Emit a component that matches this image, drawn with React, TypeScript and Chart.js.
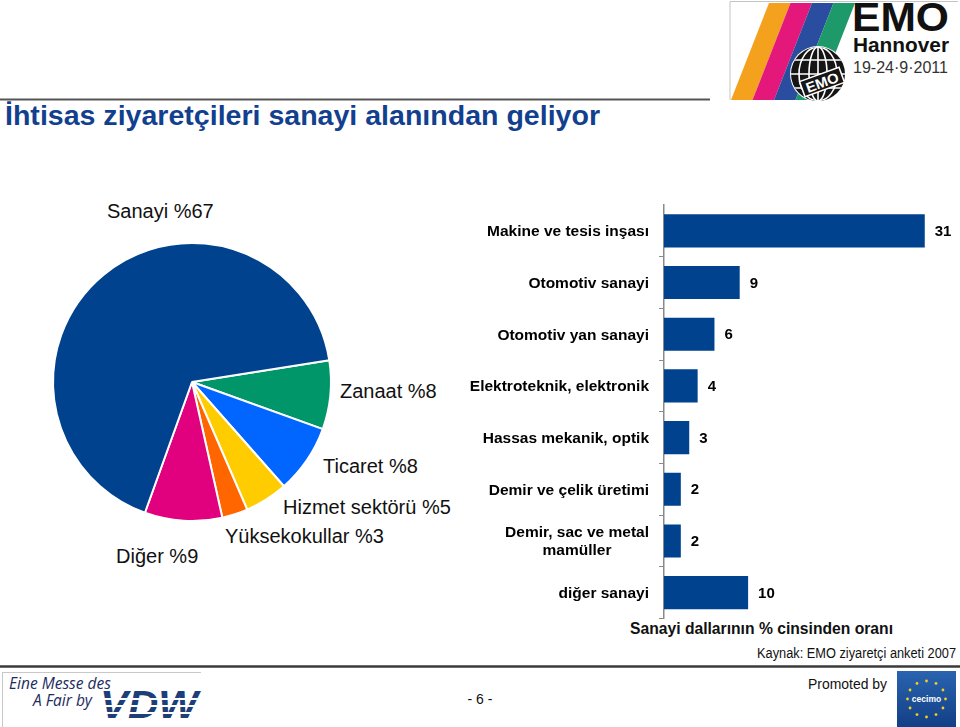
import React, { useEffect, useRef } from 'react';
import { Chart, registerables } from 'chart.js';

Chart.register(...registerables);

const FONT = '"Liberation Sans", Arial, Helvetica, sans-serif';

// ---- Pie data ----
const pieLabels = ['Zanaat', 'Ticaret', 'Hizmet sektörü', 'Yüksekokullar', 'Diğer', 'Sanayi'];
const pieValues = [8, 8, 5, 3, 9, 67];
const pieColors = ['#009669', '#0066FF', '#FFCC00', '#FF6600', '#E1007D', '#00428E'];
const pieLabelPos = [
  [340, 398],
  [323, 473],
  [283, 514],
  [225, 543],
  [116, 563],
  [107, 218],
];

// ---- Bar data ----
const barCategories: (string | string[])[] = [
  'Makine ve tesis inşası',
  'Otomotiv sanayi',
  'Otomotiv yan sanayi',
  'Elektroteknik, elektronik',
  'Hassas mekanik, optik',
  'Demir ve çelik üretimi',
  ['Demir, sac ve metal', 'mamüller'],
  'diğer sanayi',
];
const barValues = [31, 9, 6, 4, 3, 2, 2, 10];
const barColor = '#00428E';

const titleText = 'İhtisas ziyaretçileri sanayi alanından geliyor';
const axisTitle = 'Sanayi dallarının % cinsinden oranı';
const sourceText = 'Kaynak: EMO ziyaretçi anketi 2007';

const barLabelsPlugin = {
  id: 'barLabels',
  afterDraw(chart: any) {
    const ctx = chart.ctx;
    const yScale = chart.scales.y;
    const area = chart.chartArea;
    ctx.save();
    ctx.font = `bold 15.5px ${FONT}`;
    ctx.fillStyle = '#000';
    ctx.textBaseline = 'middle';
    ctx.textAlign = 'center';
    barCategories.forEach((cat, i) => {
      const lines = Array.isArray(cat) ? cat : [cat];
      const maxW = Math.max(...lines.map((l) => ctx.measureText(l).width));
      const cx = area.left - 15 - maxW / 2;
      const cy = yScale.getPixelForValue(i);
      const lh = 18;
      lines.forEach((l, j) => ctx.fillText(l, cx, cy + 1 + (j - (lines.length - 1) / 2) * lh));
    });
    const meta = chart.getDatasetMeta(0);
    ctx.textAlign = 'left';
    ctx.font = `bold 15px ${FONT}`;
    meta.data.forEach((bar: any, i: number) => {
      ctx.fillText(String(barValues[i]), bar.x + 10, bar.y + 1);
    });
    ctx.restore();
  },
};

function PieChart() {
  const ref = useRef<HTMLCanvasElement>(null);
  useEffect(() => {
    const chart = new Chart(ref.current!, {
      type: 'pie',
      data: {
        labels: pieLabels,
        datasets: [
          {
            data: pieValues,
            backgroundColor: pieColors,
            borderColor: '#ffffff',
            borderWidth: 2,
          },
        ],
      },
      options: {
        responsive: false,
        animation: false,
        rotation: 81,
        radius: 139,
        layout: { padding: 0 },
        plugins: { legend: { display: false }, tooltip: { enabled: false } },
      } as any,
    });
    return () => chart.destroy();
  }, []);
  return (
    <canvas
      ref={ref}
      width={320}
      height={320}
      style={{ position: 'absolute', left: 32, top: 222, width: 320, height: 320 }}
    />
  );
}

function BarChart() {
  const ref = useRef<HTMLCanvasElement>(null);
  useEffect(() => {
    const chart = new Chart(ref.current!, {
      type: 'bar',
      data: {
        labels: barCategories as any,
        datasets: [
          {
            data: barValues,
            backgroundColor: barColor,
            borderWidth: 0,
            barPercentage: 0.64,
            categoryPercentage: 1,
          },
        ],
      },
      options: {
        indexAxis: 'y',
        responsive: false,
        animation: false,
        layout: { padding: { top: 5, bottom: 6.5, left: 0, right: 10 } },
        scales: {
          x: { display: false, min: 0, max: 34 },
          y: {
            type: 'category',
            offset: true,
            afterFit: (scale: any) => {
              scale.width = 204;
            },
            ticks: { display: false },
            border: { display: true, color: '#8a8a8a', width: 1.5 },
            grid: {
              offset: true,
              drawOnChartArea: false,
              drawTicks: true,
              tickLength: 5,
              color: (c: any) =>
                c.index === 0 || c.index === barCategories.length ? 'rgba(0,0,0,0)' : '#8a8a8a',
            },
          },
        },
        plugins: { legend: { display: false }, tooltip: { enabled: false } },
      } as any,
      plugins: [barLabelsPlugin],
    });
    return () => chart.destroy();
  }, []);
  return (
    <canvas
      ref={ref}
      width={500}
      height={425}
      style={{ position: 'absolute', left: 460, top: 200, width: 500, height: 425 }}
    />
  );
}

function Decor() {
  const stripeColors = ['#F4A11D', '#E4187B', '#2A4DA0', '#1E9A6A'];
  const stars = Array.from({ length: 12 }, (_, i) => i);
  return (
    <svg
      width={960}
      height={727}
      style={{ position: 'absolute', left: 0, top: 0 }}
      fontFamily={FONT}
    >
      <defs>
        <clipPath id="globeClip">
          <circle cx={818} cy={74} r={27} />
        </clipPath>
        <clipPath id="logoClip">
          <rect x={730} y={2} width={230} height={98} />
        </clipPath>
        <linearGradient id="cecimoGrad" x1="0" y1="0" x2="0" y2="1">
          <stop offset="0" stopColor="#2A63B0" />
          <stop offset="1" stopColor="#123F86" />
        </linearGradient>
      </defs>

      {/* EMO logo */}
      <line x1={730} y1={1.5} x2={958} y2={1.5} stroke="#c4c4c4" strokeWidth={1} />
      <line x1={730} y1={1.5} x2={730} y2={100} stroke="#c4c4c4" strokeWidth={1} />
      <g clipPath="url(#logoClip)">
        {stripeColors.map((c, k) => {
          const t0 = 769 + 21.5 * k;
          const t1 = t0 + 21.5;
          const d = 38;
          return (
            <polygon
              key={k}
              points={`${t0},3 ${t1},3 ${t1 - d},100 ${t0 - d},100`}
              fill={c}
            />
          );
        })}
      </g>
      <circle cx={818} cy={74} r={28} fill="#ffffff" />
      <circle cx={818} cy={74} r={27} fill="#151515" />
      <g clipPath="url(#globeClip)" stroke="#ffffff" strokeWidth={1.6} fill="none">
        <ellipse cx={818} cy={74} rx={9} ry={27} />
        <ellipse cx={818} cy={74} rx={19} ry={27} />
        <line x1={818} y1={46} x2={818} y2={102} />
        <line x1={788} y1={60} x2={848} y2={60} />
        <line x1={788} y1={74} x2={848} y2={74} />
        <line x1={788} y1={88} x2={848} y2={88} />
      </g>
      <g transform="rotate(-20 822 82)">
        <rect x={801} y={74} width={42} height={16} fill="#151515" stroke="#ffffff" strokeWidth={1.5} />
        <text x={822} y={87.5} fontSize={14} fontWeight="bold" fill="#ffffff" textAnchor="middle" textLength={34} lengthAdjust="spacingAndGlyphs">
          EMO
        </text>
      </g>
      <text x={852} y={31} fontSize={40} fontWeight="bold" fill="#111" textLength={97} lengthAdjust="spacingAndGlyphs">
        EMO
      </text>
      <text x={853} y={52} fontSize={21} fontWeight="bold" fill="#111" textLength={96} lengthAdjust="spacingAndGlyphs">
        Hannover
      </text>
      <text x={853} y={73} fontSize={17} fill="#333" textLength={95} lengthAdjust="spacingAndGlyphs">
        19-24·9·2011
      </text>

      {/* Title */}
      <line x1={0} y1={99.5} x2={710} y2={99.5} stroke="#555" strokeWidth={1.8} />
      <text x={5} y={125} fontSize={28} fontWeight="bold" fill="#123F8E" textLength={595} lengthAdjust="spacingAndGlyphs">
        {titleText}
      </text>

      {/* Pie labels */}
      {pieLabels.map((l, i) => (
        <text key={l} x={pieLabelPos[i][0]} y={pieLabelPos[i][1]} fontSize={20} fill="#111">
          {`${l} %${pieValues[i]}`}
        </text>
      ))}

      {/* Bar chart texts */}
      <text x={630} y={634} fontSize={16.5} fontWeight="bold" fill="#111" textLength={263} lengthAdjust="spacingAndGlyphs">
        {axisTitle}
      </text>
      <text x={757} y={658} fontSize={14} fill="#111" textLength={199} lengthAdjust="spacingAndGlyphs">
        {sourceText}
      </text>

      {/* Footer */}
      <line x1={0} y1={666.5} x2={960} y2={666.5} stroke="#3a3a3a" strokeWidth={2.5} />
      <line x1={2} y1={672.5} x2={201} y2={672.5} stroke="#c8c8c8" strokeWidth={1} />
      <line x1={2.5} y1={672} x2={2.5} y2={727} stroke="#c8c8c8" strokeWidth={1} />
      <text x={9} y={689} fontSize={16} fontStyle="italic" fill="#1d2c5e" fontFamily='"Open Sans", sans-serif' textLength={102} lengthAdjust="spacingAndGlyphs">
        Eine Messe des
      </text>
      <text x={33} y={706} fontSize={16} fontStyle="italic" fill="#1d2c5e" fontFamily='"Open Sans", sans-serif' textLength={59} lengthAdjust="spacingAndGlyphs">
        A Fair by
      </text>
      <text x={100} y={718} fontSize={38} fontWeight="bold" fontStyle="italic" fill="#1C3F7A" textLength={98} lengthAdjust="spacingAndGlyphs">
        VDW
      </text>
      <rect x={96} y={698} width={106} height={2} fill="#ffffff" />
      <rect x={96} y={705} width={106} height={2} fill="#ffffff" />
      <rect x={96} y={712} width={106} height={2} fill="#ffffff" />
      <text x={480} y={704} fontSize={14} fill="#111" textAnchor="middle">
        - 6 -
      </text>
      <text x={808} y={689} fontSize={14} fill="#111" textLength={79} lengthAdjust="spacingAndGlyphs">
        Promoted by
      </text>
      <rect x={897} y={671} width={59} height={56} fill="url(#cecimoGrad)" />
      {stars.map((i) => {
        const a = (i / 12) * Math.PI * 2;
        return (
          <circle key={i} cx={926.5 + Math.cos(a) * 19} cy={699 + Math.sin(a) * 18} r={1.4} fill="#F2D21B" />
        );
      })}
      <text x={926.5} y={702} fontSize={8.5} fontWeight="bold" fill="#ffffff" textAnchor="middle">
        cecimo
      </text>
    </svg>
  );
}

export default function App() {
  return (
    <div
      style={{
        position: 'fixed',
        left: 0,
        top: 0,
        width: 960,
        height: 727,
        background: '#ffffff',
        overflow: 'hidden',
        fontFamily: FONT,
      }}
    >
      <Decor />
      <PieChart />
      <BarChart />
    </div>
  );
}
